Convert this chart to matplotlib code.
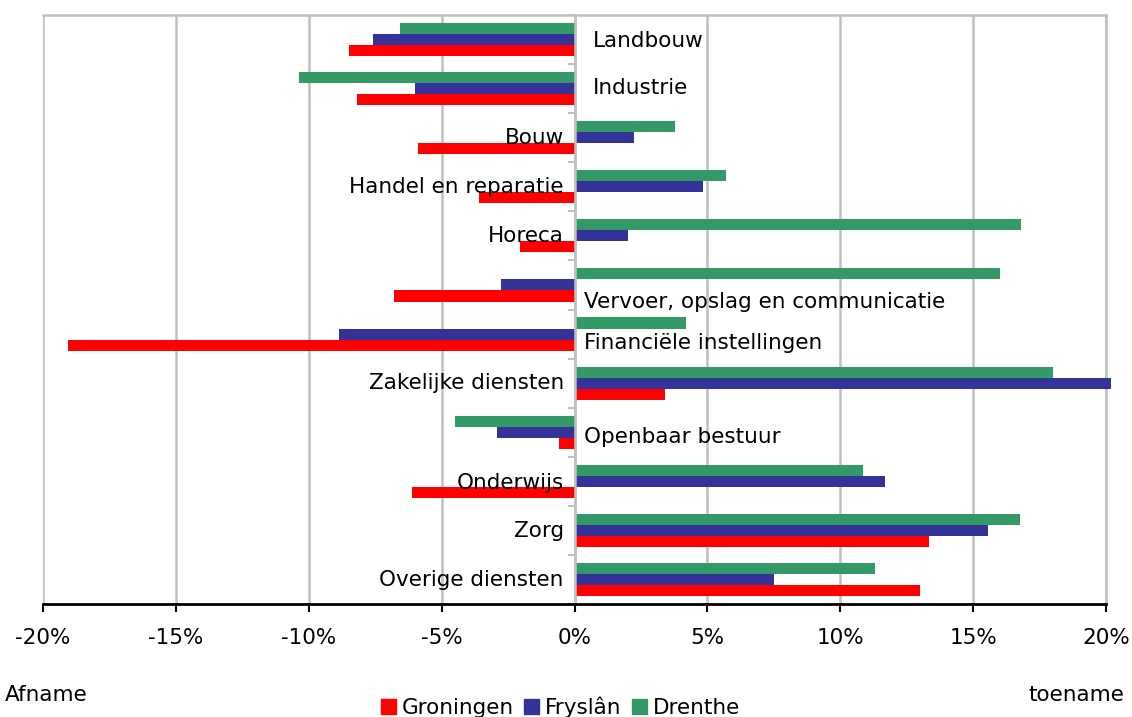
import numpy as np
import matplotlib
matplotlib.use('Agg')
import matplotlib.pyplot as plt
from matplotlib.patches import Patch

# Sectors, top to bottom
sectors = ['Landbouw', 'Industrie', 'Bouw', 'Handel en reparatie', 'Horeca',
           'Vervoer, opslag en communicatie', 'Financiële instellingen',
           'Zakelijke diensten', 'Openbaar bestuur', 'Onderwijs', 'Zorg',
           'Overige diensten']

# Change in % per province
groningen = [-8.5, -8.2, -5.9, -3.6, -2.05, -6.8, -19.05, 3.4, -0.6, -6.1, 13.35, 13.0]
fryslan = [-7.6, -6.0, 2.25, 4.85, 2.0, -2.75, -8.85, 20.2, -2.9, 11.7, 15.55, 7.5]
drenthe = [-6.55, -10.35, 3.8, 5.7, 16.8, 16.0, 4.2, 18.0, -4.5, 10.85, 16.75, 11.3]

# label placement next to the axis: x position and small vertical shift
label_x = [0.7, 0.7, -0.4, -0.4, -0.4, 0.35, 0.35, -0.4, 0.35, -0.4, -0.4, -0.4]
label_dy = [0.03, -0.01, 0.0, 0.0, 0.0, 0.35, 0.18, 0.0, 0.1, 0.03, 0.01, 0.01]

plt.rcParams['font.family'] = ['DejaVu Sans']
fs = 15.5

fig = plt.figure(figsize=(11.32, 7.17), dpi=100)
ax = fig.add_axes([43 / 1132, 1 - 604 / 717, (1106 - 43) / 1132, (604 - 15) / 717])

y = np.arange(len(sectors))
h = 0.225
ax.barh(y + h, groningen, height=h, color='#FF0000', zorder=3, clip_on=False)
ax.barh(y, fryslan, height=h, color='#333399', zorder=3, clip_on=False)
ax.barh(y - h, drenthe, height=h, color='#339966', zorder=3, clip_on=False)

ax.set_xlim(-20, 20)
ax.set_ylim(len(sectors) - 0.5, -0.5)

ax.set_xticks(np.arange(-20, 21, 5))
ax.set_xticklabels([f'{v}%' for v in range(-20, 21, 5)], fontsize=fs)
ax.grid(axis='x', color='#c0c0c0', linewidth=1.8, zorder=0)
ax.tick_params(axis='x', direction='out', length=6, width=1.5, color='black', pad=11)

# y axis at zero with small ticks between categories
ax.spines['left'].set_position(('data', 0))
ax.spines['left'].set_color('#c0c0c0')
ax.spines['left'].set_linewidth(1.8)
ax.spines['left'].set_zorder(4)
ax.set_yticks(np.arange(len(sectors) + 1) - 0.5)
ax.set_yticklabels([])
ax.tick_params(axis='y', direction='out', length=5, width=1.5, color='#c0c0c0')

for side in ['top', 'right']:
    ax.spines[side].set_color('#c0c0c0')
    ax.spines[side].set_linewidth(1.8)
ax.spines['bottom'].set_color('black')
ax.spines['bottom'].set_linewidth(2)
ax.spines['bottom'].set_zorder(5)

for i, name in enumerate(sectors):
    ha = 'left' if label_x[i] > 0 else 'right'
    ax.text(label_x[i], i + label_dy[i], name, ha=ha, va='center', fontsize=fs, zorder=6)

fig.text(5 / 1132, 1 - 695 / 717, 'Afname', ha='left', va='center', fontsize=fs)
fig.text(1124 / 1132, 1 - 695 / 717, 'toename', ha='right', va='center', fontsize=fs)

handles = [Patch(color='#FF0000', label='Groningen'),
           Patch(color='#333399', label='Fryslân'),
           Patch(color='#339966', label='Drenthe')]
fig.legend(handles=handles, loc='center', bbox_to_anchor=(0.495, 1 - 707 / 717), ncol=3,
           frameon=False, fontsize=fs, handlelength=0.7, handleheight=0.7,
           handletextpad=0.25, columnspacing=0.5, borderpad=0)

fig.savefig('out.png', dpi=100)
